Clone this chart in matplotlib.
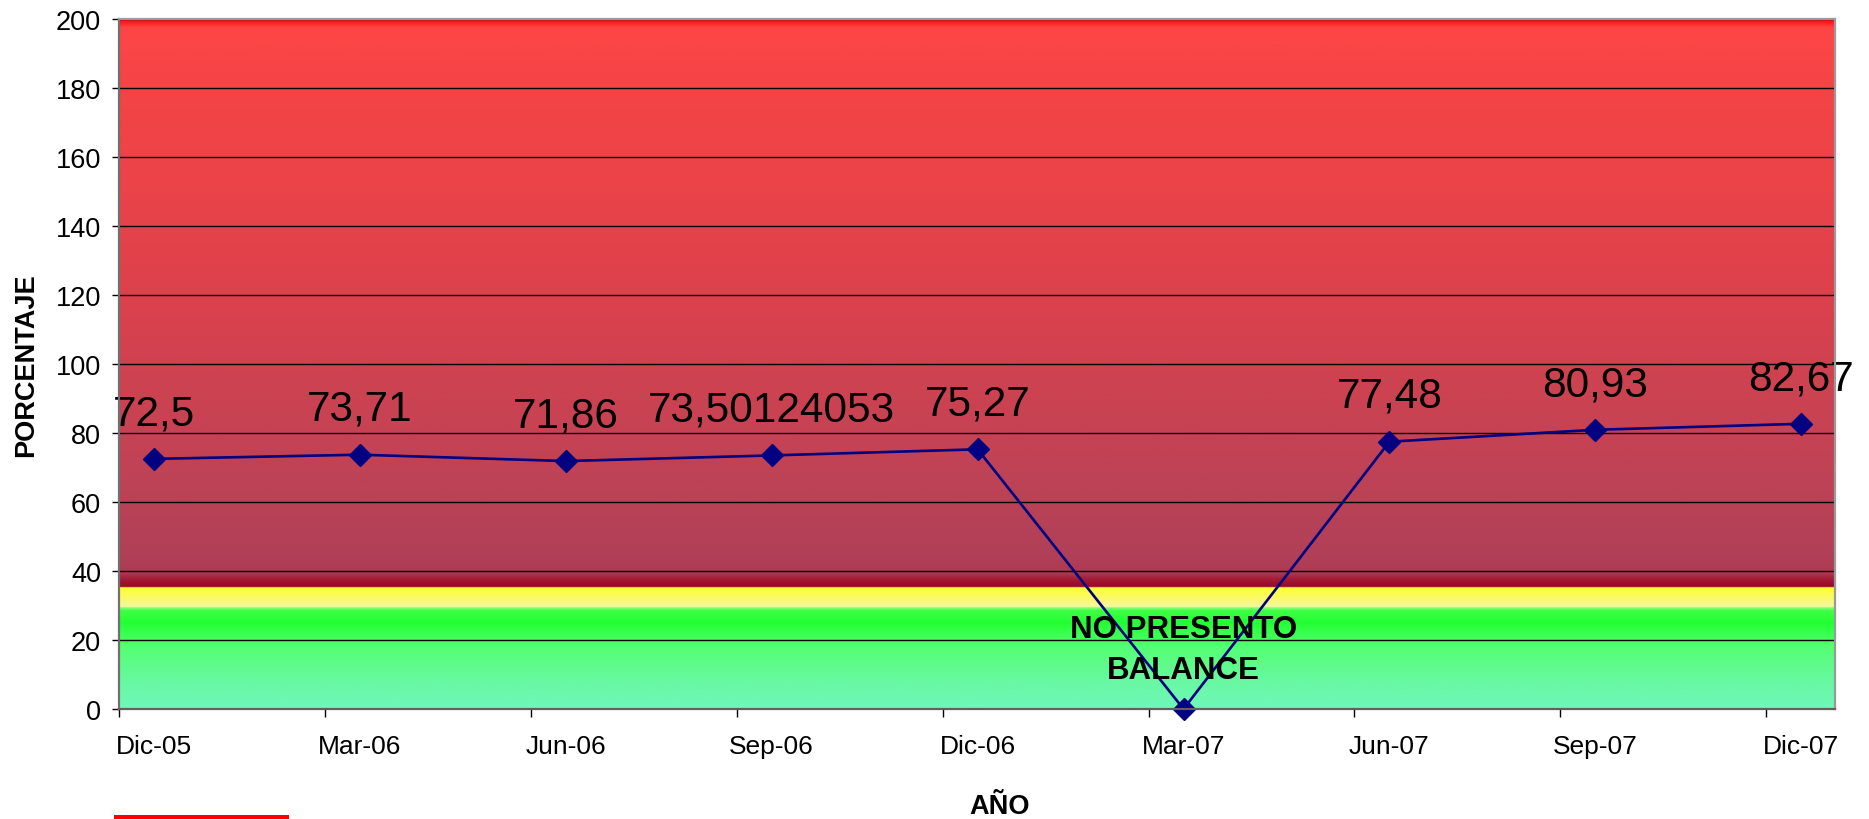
import numpy as np
import matplotlib
matplotlib.use("Agg")
import matplotlib.pyplot as plt
from matplotlib.colors import LinearSegmentedColormap
from matplotlib.patches import Rectangle

# ---------------- data ----------------
categories = ["Dic-05", "Mar-06", "Jun-06", "Sep-06", "Dic-06",
              "Mar-07", "Jun-07", "Sep-07", "Dic-07"]
values = [72.5, 73.71, 71.86, 73.50124053, 75.27, 0, 77.48, 80.93, 82.67]
value_labels = ["72,5", "73,71", "71,86", "73,50124053", "75,27", None,
                "77,48", "80,93", "82,67"]
note_text = "NO PRESENTO\nBALANCE"
note_category = "Mar-07"
y_ticks = list(range(0, 201, 20))
x_title = "AÑO"
y_title = "PORCENTAJE"

# ---------------- style ----------------
plt.rcParams['font.family'] = ['Liberation Sans', 'DejaVu Sans']

W, H = 1869, 820
fig = plt.figure(figsize=(W / 100, H / 100), dpi=100)
ax_l, ax_r, ax_t, ax_b = 119, 1835, 20, 710
ax = fig.add_axes([ax_l / W, 1 - ax_b / H, (ax_r - ax_l) / W, (ax_b - ax_t) / H])

offset = 0.17            # point position inside each quarter slot
xmax = 8.334
pos = np.arange(len(categories)) + offset

# background gradient (value, colour)
stops = [
    (0, "#70F8BA"), (8, "#68F8A2"), (18, "#55FF72"), (25, "#22FF33"),
    (28.5, "#40FF45"), (29.4, "#90FF80"), (29.6, "#F6F8A0"), (32.5, "#FAFA60"),
    (35.2, "#FFFF30"), (35.4, "#9C0828"), (37, "#A01530"), (39.5, "#AE3A52"),
    (45, "#B04058"), (60, "#BA4256"), (80, "#C64254"), (100, "#D04250"),
    (120, "#DC414C"), (150, "#EA4349"), (180, "#F44446"), (197.5, "#FF4646"),
    (199, "#FF2020"), (200, "#FF0000"),
]
cmap = LinearSegmentedColormap.from_list("bg", [(v / 200, c) for v, c in stops], N=4096)
grad = np.linspace(0, 1, 2000).reshape(-1, 1)
ax.imshow(grad, cmap=cmap, aspect="auto", origin="lower",
          extent=[0, xmax, 0, 200], zorder=0, interpolation="bilinear")

ax.set_xlim(0, xmax)
ax.set_ylim(0, 200)

# grid
ax.set_yticks(y_ticks)
ax.yaxis.grid(True, color="black", linewidth=1.0, zorder=1)
ax.set_axisbelow(False)

# line
ax.plot(pos, values, color="#000080", linewidth=1.9, marker="D",
        markersize=11, markerfacecolor="#000080", markeredgecolor="#000080",
        zorder=5, clip_on=False)

# data labels
for x, v, lab in zip(pos, values, value_labels):
    if lab is None:
        continue
    ax.annotate(lab, xy=(x, v), xytext=(0, 25), textcoords="offset points",
                ha="center", va="baseline", fontsize=30.5, color="black",
                zorder=6, annotation_clip=False)

# note
ni = categories.index(note_category)
ax.text(pos[ni], 17.2, note_text, ha="center", va="center",
        multialignment="center", fontsize=22.5, fontweight="bold",
        linespacing=1.45, zorder=6)

# x ticks
ax.set_xticks(pos)
ax.set_xticklabels(categories, fontsize=19)
ax.tick_params(axis="x", which="major", length=0, pad=18)
ax.set_xticks(np.arange(0, len(categories)), minor=True)
ax.tick_params(axis="x", which="minor", length=6, width=1, color="black", direction="out")

# y ticks
ax.set_yticklabels([str(t) for t in y_ticks], fontsize=19.5)
ax.tick_params(axis="y", length=5, width=1, color="black", pad=8)

# spines
ax.spines["left"].set_color("#707070")
ax.spines["bottom"].set_color("#606060")
ax.spines["top"].set_color("#9A9A9A")
ax.spines["right"].set_color("#9A9A9A")
for s in ax.spines.values():
    s.set_linewidth(1.6)
    s.set_zorder(7)

# titles
ax.set_xlabel(x_title, fontsize=19.5, fontweight="bold")
ax.xaxis.set_label_coords(0.513, -0.14)
ax.xaxis.label.set_va("center")
ax.set_ylabel(y_title, fontsize=19.5, fontweight="bold")
ax.yaxis.set_label_coords(-0.054, 0.5)
ax.yaxis.label.set_va("center")

# red legend stub at bottom
fig.patches.append(Rectangle((114 / W, 0), 175 / W, 4 / H, transform=fig.transFigure,
                             facecolor="#FF0000", edgecolor="none"))

fig.savefig("out.png", dpi=100, facecolor="white")
